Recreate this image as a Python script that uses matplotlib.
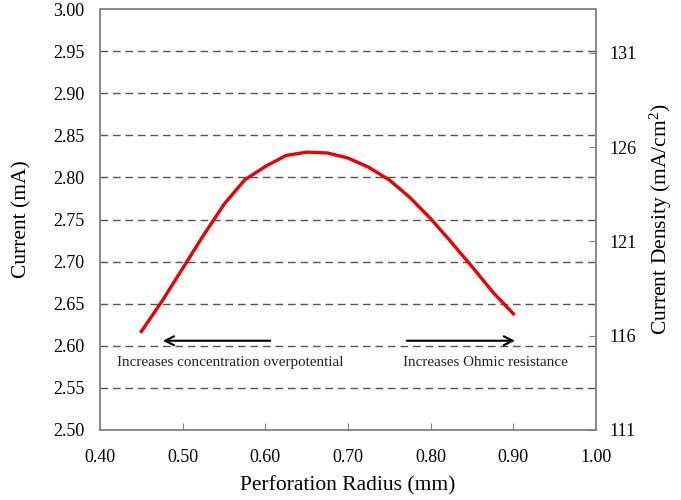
import matplotlib
matplotlib.use("Agg")
import matplotlib.pyplot as plt
import numpy as np

plt.rcParams['font.family'] = ['Liberation Serif', 'DejaVu Serif']
plt.rcParams['mathtext.fontset'] = 'custom'
plt.rcParams['mathtext.rm'] = 'Liberation Serif'
plt.rcParams['mathtext.default'] = 'regular'

# Data
radius = [0.45, 0.475, 0.50, 0.525, 0.55, 0.575, 0.60, 0.625, 0.65, 0.675,
          0.70, 0.725, 0.75, 0.775, 0.80, 0.825, 0.85, 0.875, 0.90]
current = [2.617, 2.653, 2.692, 2.731, 2.768, 2.797, 2.813, 2.826, 2.830, 2.829,
           2.823, 2.812, 2.797, 2.776, 2.751, 2.723, 2.694, 2.664, 2.638]
area_factor = 1 / 0.0225  # mA -> mA/cm^2
x_ticks = [0.40, 0.50, 0.60, 0.70, 0.80, 0.90, 1.00]
y_ticks = [2.50, 2.55, 2.60, 2.65, 2.70, 2.75, 2.80, 2.85, 2.90, 2.95, 3.00]
grid_levels = [2.55, 2.60, 2.65, 2.70, 2.75, 2.80, 2.85, 2.90, 2.95]
right_ticks = [111, 116, 121, 126, 131]
arrow_y = 2.606
left_arrow = (0.606, 0.476)
right_arrow = (0.771, 0.902)
left_text = "Increases concentration overpotential"
right_text = "Increases Ohmic resistance"

fig = plt.figure(figsize=(6.81, 5.0), dpi=100)
ax = fig.add_axes([100/681, 70/500, 496/681, 421/500])

for g in grid_levels:
    ax.axhline(g, color='#555555', lw=1.0, ls=(0, (5.5, 3.5)), zorder=1)

ax.plot(radius, current, color='#ee0000', lw=2.4, zorder=3)

ax.set_xlim(0.40, 1.00)
ax.set_ylim(2.50, 3.00)
ax.set_xticks(x_ticks)
ax.set_xticklabels([f"{v:.2f}" for v in x_ticks], fontsize=13)
ax.set_yticks(y_ticks)
ax.set_yticklabels([f"{v:.2f}" for v in y_ticks], fontsize=13)
ax.tick_params(axis='x', direction='in', length=5, color='#808080', pad=14)
ax.tick_params(axis='y', length=0, pad=11)
for s in ax.spines.values():
    s.set_color('#808080')
    s.set_linewidth(1.3)

ax.set_xlabel("Perforation Radius (mm)", fontsize=15.5, labelpad=7)
ax.set_ylabel("Current (mA)", fontsize=15.5, labelpad=16)

ax2 = ax.twinx()
ax2.set_ylim(2.50 * area_factor, 3.00 * area_factor)
ax2.set_yticks(right_ticks)
ax2.set_yticklabels([str(v) for v in right_ticks], fontsize=13)
ax2.tick_params(axis='y', direction='in', length=5, color='#808080', pad=10)
for s in ax2.spines.values():
    s.set_visible(False)
ax2.set_ylabel("Current Density (mA/cm$^2$)", fontsize=15.5, labelpad=8)

ax.annotate("", xy=(left_arrow[1], arrow_y), xytext=(left_arrow[0], arrow_y),
            arrowprops=dict(arrowstyle='->', color='black', lw=1.5, mutation_scale=16,
                            shrinkA=0, shrinkB=0), zorder=4)
ax.annotate("", xy=(right_arrow[1], arrow_y), xytext=(right_arrow[0], arrow_y),
            arrowprops=dict(arrowstyle='->', color='black', lw=1.5, mutation_scale=16,
                            shrinkA=0, shrinkB=0), zorder=4)
ax.text(0.420, 2.580, left_text, fontsize=10.9, ha='left', va='center', color='#222222')
ax.text(0.766, 2.580, right_text, fontsize=10.9, ha='left', va='center', color='#222222')

fig.savefig("out.png", dpi=100)
